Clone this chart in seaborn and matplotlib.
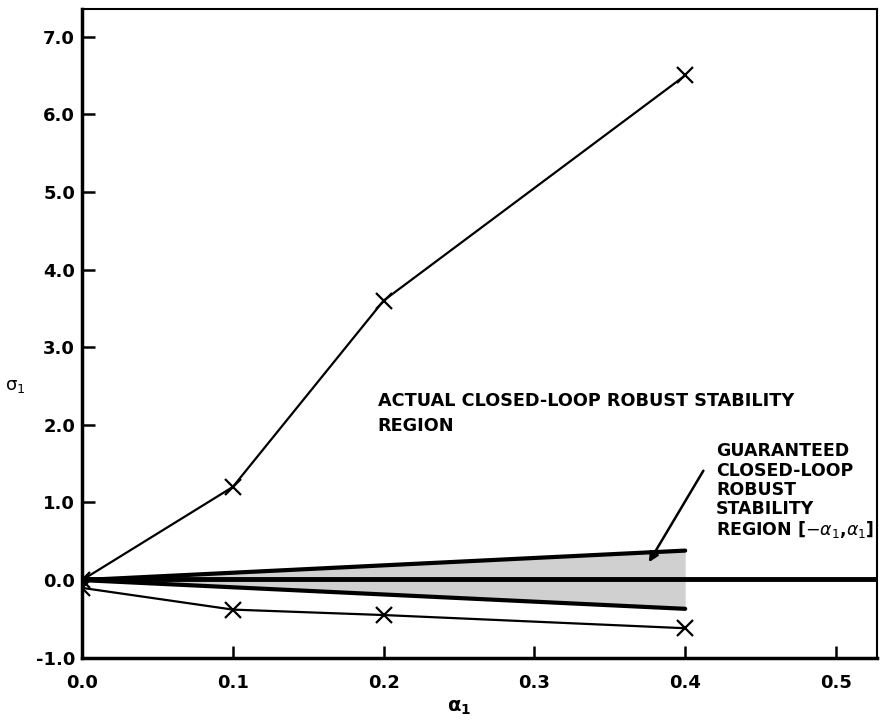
import pandas as pd
import matplotlib
matplotlib.use("Agg")
import matplotlib.pyplot as plt
import seaborn as sns

## data
alpha_pts = [0.0, 0.1, 0.2, 0.4]
sigma_upper = [0.0, 1.2, 3.6, 6.5]
sigma_lower = [-0.1, -0.38, -0.45, -0.62]

guar_alpha = [0.0, 0.4]
guar_upper = [0.0, 0.38]
guar_lower = [0.0, -0.37]
axis_line = 0.02

x_ticks = [0.0, 0.1, 0.2, 0.3, 0.4, 0.5]
y_ticks = [-1.0, 0.0, 1.0, 2.0, 3.0, 4.0, 5.0, 6.0, 7.0]

sns.set_style("ticks")
plt.rcParams['font.family'] = ['DejaVu Sans']
plt.rcParams['mathtext.fontset'] = 'dejavusans'
plt.rcParams['axes.unicode_minus'] = False
for key in ["text.color", "axes.labelcolor", "xtick.color", "ytick.color"]:
    plt.rcParams[key] = "black"

actual_df = pd.DataFrame({"alpha": alpha_pts * 2,
                          "sigma": sigma_upper + sigma_lower,
                          "branch": ["upper"] * 4 + ["lower"] * 4})

fig = plt.figure(figsize=(8.82, 7.22), dpi=100)
ax = fig.add_axes([0.093, 0.089, 0.901, 0.899])

# guaranteed region (shaded wedge)
ax.fill_between(guar_alpha, guar_lower, guar_upper, color="#d0d0d0", linewidth=0, zorder=1)
sns.lineplot(x=guar_alpha, y=guar_upper, color="black", linewidth=3, ax=ax, zorder=3)
sns.lineplot(x=guar_alpha, y=guar_lower, color="black", linewidth=3, ax=ax, zorder=3)
ax.axhline(axis_line, color="black", linewidth=3.5, zorder=3)

# actual region boundaries
sns.lineplot(data=actual_df, x="alpha", y="sigma", units="branch", estimator=None,
             color="black", linewidth=1.6, marker="x", markersize=11,
             markeredgewidth=1.6, markeredgecolor="black", ax=ax, zorder=4)

ax.set_xlim(0.0, 0.527)
ax.set_ylim(-1.0, 7.36)
ax.set_xticks(x_ticks)
ax.set_yticks(y_ticks)
ax.set_xticklabels([f"{v:.1f}" for v in x_ticks], fontsize=13, fontweight="bold")
ax.set_yticklabels([f"{v:.1f}" for v in y_ticks], fontsize=13, fontweight="bold")
ax.tick_params(direction="in", length=9, width=1.8, color="black")
ax.tick_params(axis="x", pad=12)
ax.tick_params(axis="y", pad=5)
for s in ax.spines.values():
    s.set_linewidth(2.5)
    s.set_color("black")
ax.spines["right"].set_linewidth(1.5)
ax.spines["top"].set_linewidth(1.5)

ax.set_xlabel(r"$\mathbf{\alpha}_\mathbf{1}$", fontsize=14)
ax.xaxis.set_label_coords(0.474, -0.062)
ax.set_ylabel(r"$\mathrm{\sigma}_1$", fontsize=13, rotation=0)
ax.yaxis.set_label_coords(-0.084, 0.405)

# va="baseline" pins the last line's baseline here
ax.text(0.196, 1.92, "ACTUAL CLOSED-LOOP ROBUST STABILITY\nREGION",
        fontsize=12.7, fontweight="bold", va="baseline", ha="left", linespacing=1.5)
ax.text(0.4205, 0.58, "GUARANTEED\nCLOSED-LOOP\nROBUST\nSTABILITY\nREGION [$-\\alpha_1$,$\\alpha_1$]",
        fontsize=12.5, fontweight="bold", va="baseline", ha="left", linespacing=1.08)
ax.annotate("", xy=(0.375, 0.2), xytext=(0.413, 1.44),
            arrowprops=dict(arrowstyle="-|>", color="black", lw=1.8, mutation_scale=14))

if ax.get_legend() is not None:
    ax.get_legend().remove()

fig.savefig("out.png", dpi=100)
